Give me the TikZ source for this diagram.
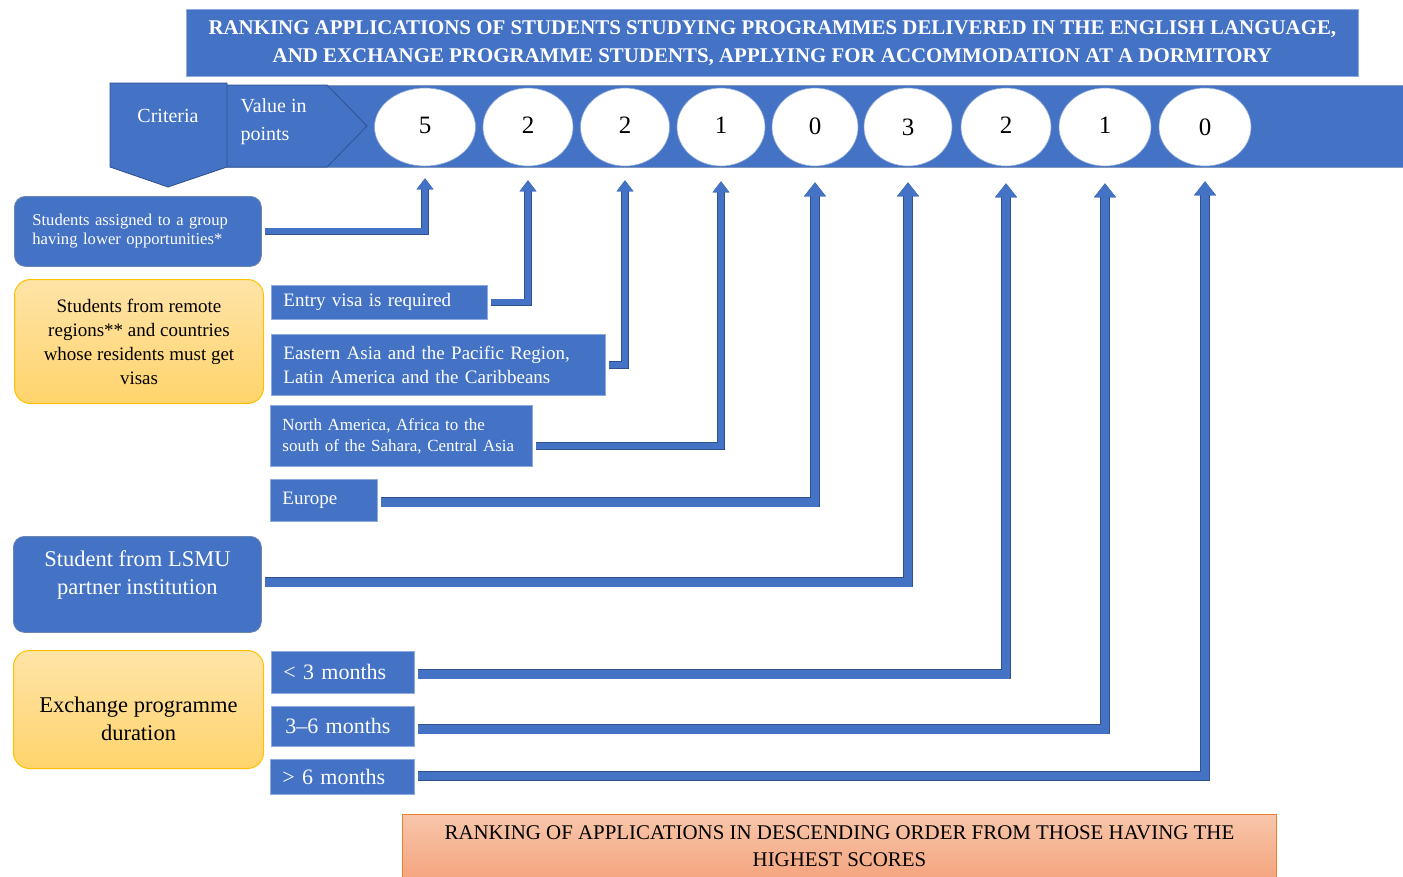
\documentclass[tikz,border=0pt]{standalone}
\usepackage{fontspec}
\setmainfont{Liberation Serif}
\usetikzlibrary{arrows.meta,calc,shapes.geometric}
\definecolor{bblue}{HTML}{4472C4}
\definecolor{bdark}{HTML}{2F528F}
\definecolor{bline}{HTML}{8FAADC}
\definecolor{gtop}{HTML}{FFE4A8}
\definecolor{gbot}{HTML}{FFD46C}
\definecolor{gborder}{HTML}{FFC000}
\definecolor{otop}{HTML}{F8C6AA}
\definecolor{obot}{HTML}{F4A57F}
\definecolor{oborder}{HTML}{ED7D31}
\newcommand\fsz[2]{\fontsize{#1}{#2}\selectfont}
\begin{document}
\begin{tikzpicture}[x=1pt,y=-1pt,
  sqbox/.style={fill=bblue, draw=bline, line width=0.8pt, text=white, inner xsep=12pt, inner ysep=0pt, anchor=north west, align=left},
  rblue/.style={fill=bblue, draw=bdark!70, line width=0.8pt, rounded corners=11pt, text=white, inner sep=0pt, anchor=north west, align=center},
  rgold/.style={top color=gtop, bottom color=gbot, draw=gborder, line width=1pt, rounded corners=16pt, text=black, inner sep=0pt, anchor=north west, align=center},
  val/.style={ellipse, fill=white, draw=bline, line width=0.6pt, minimum height=78pt, inner sep=0pt, font=\fsz{25}{28}},
  conn/.style={draw=bblue, line width=6pt, line join=miter, -{Triangle[width=16pt,length=11pt]}, shorten <=3pt, preaction={draw=bdark, line width=7.4pt}},
  connbig/.style={draw=bblue, line width=8.5pt, line join=miter, -{Triangle[width=21pt,length=14pt]}, shorten <=3pt, preaction={draw=bdark, line width=10pt}}]
\useasboundingbox (0,0) rectangle (1403,876);

% title banner
\node[fill=bblue, draw=bline, line width=0.8pt, text=white, anchor=north west, minimum width=1172pt, minimum height=67pt, inner sep=0pt, align=center, font=\bfseries\fsz{20.9}{28}] (title) at (186,9)
  {RANKING APPLICATIONS OF STUDENTS STUDYING PROGRAMMES DELIVERED IN THE ENGLISH LANGUAGE,\\AND EXCHANGE PROGRAMME STUDENTS, APPLYING FOR ACCOMMODATION AT A DORMITORY};

% header band
\fill[bblue, draw=bdark!60, line width=0.6pt] (227,85) rectangle (1410,167);
\filldraw[fill=bblue, draw=bdark, line width=0.8pt] (227,85) -- (327,85) -- (367,126) -- (327,167) -- (227,167);
\filldraw[fill=bblue, draw=bdark, line width=0.8pt] (110,83) -- (227,83) -- (227,167) -- (168,187) -- (110,167) -- cycle;
\node[text=white, font=\fsz{20}{24}] (crit) at (168,116) {Criteria};
\node[text=white, font=\fsz{20}{28}, align=left, anchor=west] (valpts) at (237,122) {Value in\\points};

% value ellipses
\node[val, minimum width=101pt] (e1) at (425,127) {\raisebox{4pt}{5}};
\node[val, minimum width=90pt] (e2) at (528,127) {\raisebox{4pt}{2}};
\node[val, minimum width=89pt] (e3) at (625,127) {\raisebox{3pt}{2}};
\node[val, minimum width=88pt] (e4) at (721,127) {\raisebox{3pt}{1}};
\node[val, minimum width=86pt] (e5) at (815,127) {\raisebox{2pt}{0}};
\node[val, minimum width=88pt] (e6) at (908,127) {3};
\node[val, minimum width=90pt] (e7) at (1006,127) {\raisebox{3pt}{2}};
\node[val, minimum width=92pt] (e8) at (1105,127) {\raisebox{3pt}{1}};
\node[val, minimum width=92pt] (e9) at (1205,127) {0};

% criteria boxes
\node[rblue, minimum width=247pt, minimum height=70pt, text width=211pt, align=left, font=\fsz{16.6}{19}] (low) at (14,196)
  {Students assigned to a group\\having lower opportunities*};
\node[rgold, minimum width=249pt, minimum height=124pt, font=\fsz{19}{24}] (remote) at (14,279)
  {Students from remote\\regions** and countries\\whose residents must get\\visas};
\node[sqbox, minimum width=216pt, minimum height=34pt, text width=192pt, font=\fsz{19}{24}] (visa) at (271,285) {Entry visa is required};
\node[sqbox, minimum width=334pt, minimum height=61pt, text width=310pt, font=\fsz{19}{24}] (asia) at (271,334)
  {Eastern Asia and the Pacific Region,\\Latin America and the Caribbeans};
\node[sqbox, minimum width=262pt, minimum height=61pt, text width=238pt, font=\fsz{17}{21}] (namer) at (270,405)
  {North America, Africa to the\\south of the Sahara, Central Asia};
\node[sqbox, minimum width=107pt, minimum height=42pt, text width=83pt, font=\fsz{19}{24}] (europe) at (270,479) {Europe};
\node[rblue, minimum width=248pt, minimum height=96pt, font=\fsz{22.5}{28}] (lsmu) at (13,536)
  {Student from LSMU\\partner institution\\[-12pt]\strut};
\node[rgold, minimum width=250pt, minimum height=118pt, font=\fsz{22.5}{28}] (exch) at (13,650)
  {\strut\\[-14pt]Exchange programme\\duration};
\node[sqbox, minimum width=143pt, minimum height=42pt, text width=119pt, font=\fsz{22}{26}] (m3) at (271,651) {< 3 months};
\node[sqbox, minimum width=143pt, minimum height=40pt, text width=115pt, font=\fsz{22}{26}, inner xsep=14pt] (m36) at (271,706) {3--6 months};
\node[sqbox, minimum width=144pt, minimum height=35pt, text width=120pt, font=\fsz{22}{26}] (m6) at (270,759) {\raisebox{-4pt}{> 6 months}};

% result box
\node[top color=otop, bottom color=obot, draw=oborder, line width=1pt, anchor=north west, minimum width=874pt, minimum height=64pt, inner sep=0pt, align=center, font=\fsz{20.9}{27}] (rank) at (402,814)
  {RANKING OF APPLICATIONS IN DESCENDING ORDER FROM THOSE HAVING THE\\HIGHEST SCORES};

% connectors
\draw[conn] (low.east) -| ([yshift=-12pt]e1.south);
\draw[conn] (visa.east) -| ([yshift=-14pt]e2.south);
\draw[conn] (asia.east) -| ([yshift=-14pt]e3.south);
\draw[conn] ([yshift=-10pt]namer.east) -| ([yshift=-15pt]e4.south);
\draw[connbig] ([yshift=-2pt]europe.east) -| ([yshift=-16pt]e5.south);
\draw[connbig] ([yshift=2pt]lsmu.east) -| ([yshift=-16pt]e6.south);
\draw[connbig] ([yshift=-2pt]m3.east) -| ([yshift=-17pt]e7.south);
\draw[connbig] ([yshift=-3pt]m36.east) -| ([yshift=-17pt]e8.south);
\draw[connbig] ([yshift=1pt]m6.east) -| ([yshift=-15pt]e9.south);
\end{tikzpicture}
\end{document}
